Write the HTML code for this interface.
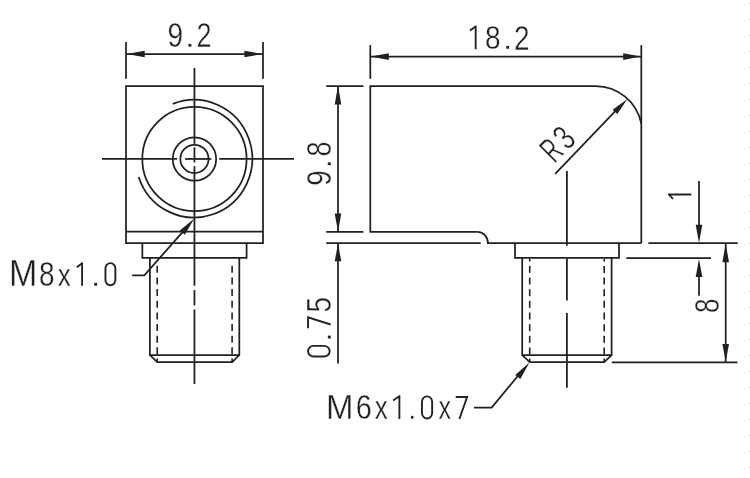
<!DOCTYPE html><html><head><meta charset="utf-8"><style>html,body{margin:0;padding:0;background:#fff;width:750px;height:478px;overflow:hidden}svg{display:block}text{font-family:"Liberation Sans",sans-serif;fill:#231f20}</style></head><body>
<svg width="750" height="478" viewBox="0 0 750 478">
<g stroke-linecap="butt" stroke-linejoin="miter">
<line x1="126" y1="42" x2="126" y2="78.8" stroke="#231f20" stroke-width="1.75"/>
<line x1="263" y1="42" x2="263" y2="78.8" stroke="#231f20" stroke-width="1.75"/>
<line x1="126" y1="54" x2="263" y2="54" stroke="#231f20" stroke-width="1.75"/>
<path d="M126.6 54L144.7 50.7L144.7 57.3Z" fill="#231f20"/>
<path d="M262.4 54L244.4 57.3L244.4 50.7Z" fill="#231f20"/>
<path d="M126 86H263V243H126Z" stroke="#231f20" stroke-width="1.75" fill="none"/>
<line x1="126" y1="231.7" x2="263" y2="231.7" stroke="#231f20" stroke-width="1.75"/>
<path d="M142.35 243V257.85H246.6V243" stroke="#231f20" stroke-width="1.75" fill="none"/>
<path d="M149.9 257.85V355H239.3V257.85" stroke="#231f20" stroke-width="1.75" fill="none"/>
<path d="M149.9 355L157.2 362.2H232.2L239.3 355" stroke="#231f20" stroke-width="1.75" fill="none"/>
<circle cx="194.45" cy="158.95" r="52.15" stroke="#231f20" stroke-width="1.75" fill="none"/>
<circle cx="194.45" cy="158.95" r="21.7" stroke="#231f20" stroke-width="1.75" fill="none"/>
<circle cx="194.45" cy="158.95" r="14.1" stroke="#231f20" stroke-width="1.75" fill="none"/>
<path d="M172.8 103.9A58.2 58.85 0 1 1 138.7 176.9" stroke="#231f20" stroke-width="1.75" fill="none"/>
<line x1="102" y1="158.95" x2="177.1" y2="158.95" stroke="#231f20" stroke-width="1.8"/>
<line x1="185.2" y1="158.95" x2="211.3" y2="158.95" stroke="#231f20" stroke-width="1.8"/>
<line x1="219.2" y1="158.95" x2="294" y2="158.95" stroke="#231f20" stroke-width="1.8"/>
<line x1="194.45" y1="67.9" x2="194.45" y2="143.9" stroke="#231f20" stroke-width="1.8"/>
<line x1="194.45" y1="147.3" x2="194.45" y2="162.4" stroke="#231f20" stroke-width="1.8"/>
<line x1="194.45" y1="166.2" x2="194.45" y2="285.7" stroke="#231f20" stroke-width="1.8"/>
<line x1="194.45" y1="290.1" x2="194.45" y2="305.4" stroke="#231f20" stroke-width="1.8"/>
<line x1="194.45" y1="309.5" x2="194.45" y2="384" stroke="#231f20" stroke-width="1.8"/>
<line x1="157.2" y1="265.8" x2="157.2" y2="272.8" stroke="#231f20" stroke-width="1.6"/>
<line x1="157.2" y1="277.45" x2="157.2" y2="284.45" stroke="#231f20" stroke-width="1.6"/>
<line x1="157.2" y1="289.1" x2="157.2" y2="296.1" stroke="#231f20" stroke-width="1.6"/>
<line x1="157.2" y1="300.75" x2="157.2" y2="307.75" stroke="#231f20" stroke-width="1.6"/>
<line x1="157.2" y1="312.4" x2="157.2" y2="319.4" stroke="#231f20" stroke-width="1.6"/>
<line x1="157.2" y1="324.05" x2="157.2" y2="331.05" stroke="#231f20" stroke-width="1.6"/>
<line x1="157.2" y1="335.7" x2="157.2" y2="342.7" stroke="#231f20" stroke-width="1.6"/>
<line x1="157.2" y1="347.35" x2="157.2" y2="354.35" stroke="#231f20" stroke-width="1.6"/>
<line x1="232.1" y1="265.8" x2="232.1" y2="272.8" stroke="#231f20" stroke-width="1.6"/>
<line x1="232.1" y1="277.45" x2="232.1" y2="284.45" stroke="#231f20" stroke-width="1.6"/>
<line x1="232.1" y1="289.1" x2="232.1" y2="296.1" stroke="#231f20" stroke-width="1.6"/>
<line x1="232.1" y1="300.75" x2="232.1" y2="307.75" stroke="#231f20" stroke-width="1.6"/>
<line x1="232.1" y1="312.4" x2="232.1" y2="319.4" stroke="#231f20" stroke-width="1.6"/>
<line x1="232.1" y1="324.05" x2="232.1" y2="331.05" stroke="#231f20" stroke-width="1.6"/>
<line x1="232.1" y1="335.7" x2="232.1" y2="342.7" stroke="#231f20" stroke-width="1.6"/>
<line x1="232.1" y1="347.35" x2="232.1" y2="354.35" stroke="#231f20" stroke-width="1.6"/>
<line x1="157.2" y1="358.6" x2="157.2" y2="362.2" stroke="#231f20" stroke-width="1.6"/>
<line x1="232.1" y1="358.6" x2="232.1" y2="362.2" stroke="#231f20" stroke-width="1.6"/>
<path d="M132.2 275.3H144.3L185 229.4" stroke="#231f20" stroke-width="1.75" fill="none"/>
<path d="M194.3 218.6L184.81 234.75L179.79 230.45Z" fill="#231f20"/>
<line x1="370.3" y1="45.1" x2="370.3" y2="78.8" stroke="#231f20" stroke-width="1.75"/>
<line x1="641.3" y1="45.1" x2="641.3" y2="243.1" stroke="#231f20" stroke-width="1.75"/>
<line x1="370.2" y1="56.6" x2="641.3" y2="56.6" stroke="#231f20" stroke-width="1.75"/>
<path d="M370.6 56.6L388.8 53.3L388.8 59.9Z" fill="#231f20"/>
<path d="M640.9 56.6L623.2 59.9L623.2 53.3Z" fill="#231f20"/>
<path d="M477.6 231.8H370.3V86H595.4A46.9 46.9 0 0 1 641.3 123.6" stroke="#231f20" stroke-width="1.75" fill="none"/>
<path d="M477.6 231.8A10.3 11.3 0 0 1 487.9 243.1H641.3" stroke="#231f20" stroke-width="1.75" fill="none"/>
<path d="M515 243.1V257.9H619V243.1" stroke="#231f20" stroke-width="1.75" fill="none"/>
<path d="M522.2 257.9V355.1H611.6V257.9" stroke="#231f20" stroke-width="1.75" fill="none"/>
<path d="M522.2 355.1L529.8 362.2H604.2L611.6 355.1" stroke="#231f20" stroke-width="1.75" fill="none"/>
<line x1="529.7" y1="265.9" x2="529.7" y2="272.9" stroke="#231f20" stroke-width="1.6"/>
<line x1="529.7" y1="277.55" x2="529.7" y2="284.55" stroke="#231f20" stroke-width="1.6"/>
<line x1="529.7" y1="289.2" x2="529.7" y2="296.2" stroke="#231f20" stroke-width="1.6"/>
<line x1="529.7" y1="300.85" x2="529.7" y2="307.85" stroke="#231f20" stroke-width="1.6"/>
<line x1="529.7" y1="312.5" x2="529.7" y2="319.5" stroke="#231f20" stroke-width="1.6"/>
<line x1="529.7" y1="324.15" x2="529.7" y2="331.15" stroke="#231f20" stroke-width="1.6"/>
<line x1="529.7" y1="335.8" x2="529.7" y2="342.8" stroke="#231f20" stroke-width="1.6"/>
<line x1="529.7" y1="347.45" x2="529.7" y2="354.45" stroke="#231f20" stroke-width="1.6"/>
<line x1="604.2" y1="265.9" x2="604.2" y2="272.9" stroke="#231f20" stroke-width="1.6"/>
<line x1="604.2" y1="277.55" x2="604.2" y2="284.55" stroke="#231f20" stroke-width="1.6"/>
<line x1="604.2" y1="289.2" x2="604.2" y2="296.2" stroke="#231f20" stroke-width="1.6"/>
<line x1="604.2" y1="300.85" x2="604.2" y2="307.85" stroke="#231f20" stroke-width="1.6"/>
<line x1="604.2" y1="312.5" x2="604.2" y2="319.5" stroke="#231f20" stroke-width="1.6"/>
<line x1="604.2" y1="324.15" x2="604.2" y2="331.15" stroke="#231f20" stroke-width="1.6"/>
<line x1="604.2" y1="335.8" x2="604.2" y2="342.8" stroke="#231f20" stroke-width="1.6"/>
<line x1="604.2" y1="347.45" x2="604.2" y2="354.45" stroke="#231f20" stroke-width="1.6"/>
<line x1="529.7" y1="259" x2="529.7" y2="261.5" stroke="#231f20" stroke-width="1.6"/>
<line x1="604.2" y1="259" x2="604.2" y2="261.5" stroke="#231f20" stroke-width="1.6"/>
<line x1="529.7" y1="358.6" x2="529.7" y2="362.2" stroke="#231f20" stroke-width="1.6"/>
<line x1="604.2" y1="358.6" x2="604.2" y2="362.2" stroke="#231f20" stroke-width="1.6"/>
<line x1="566.9" y1="171" x2="566.9" y2="245.7" stroke="#231f20" stroke-width="1.8"/>
<line x1="566.9" y1="258.5" x2="566.9" y2="300.6" stroke="#231f20" stroke-width="1.8"/>
<line x1="566.9" y1="312.9" x2="566.9" y2="387.7" stroke="#231f20" stroke-width="1.8"/>
<line x1="555.2" y1="173.8" x2="616" y2="110.3" stroke="#231f20" stroke-width="1.75"/>
<path d="M627.4 98.9L617.32 114.11L612.68 109.69Z" fill="#231f20"/>
<line x1="326.2" y1="86" x2="363.5" y2="86" stroke="#231f20" stroke-width="1.75"/>
<line x1="326.2" y1="231.8" x2="363.4" y2="231.8" stroke="#231f20" stroke-width="1.75"/>
<line x1="326.2" y1="243.05" x2="480.7" y2="243.05" stroke="#231f20" stroke-width="1.75"/>
<line x1="338" y1="85.9" x2="338" y2="231.8" stroke="#231f20" stroke-width="1.75"/>
<path d="M338 86.1L341.3 104.6L334.7 104.6Z" fill="#231f20"/>
<path d="M338 231.6L334.7 213.4L341.3 213.4Z" fill="#231f20"/>
<line x1="338" y1="243.2" x2="338" y2="363.6" stroke="#231f20" stroke-width="1.75"/>
<path d="M338 243.4L341.3 261.2L334.7 261.2Z" fill="#231f20"/>
<path d="M474 407.6H491.7L522 371" stroke="#231f20" stroke-width="1.75" fill="none"/>
<path d="M529.4 362.4L520.38 379.05L515.22 374.95Z" fill="#231f20"/>
<line x1="648.4" y1="243.2" x2="737.7" y2="243.2" stroke="#231f20" stroke-width="1.75"/>
<line x1="626.3" y1="258.2" x2="711" y2="258.2" stroke="#231f20" stroke-width="1.75"/>
<line x1="611.8" y1="362.3" x2="737.5" y2="362.3" stroke="#231f20" stroke-width="1.75"/>
<line x1="699" y1="181" x2="699" y2="230" stroke="#231f20" stroke-width="1.75"/>
<path d="M699 242.9L695.7 224.8L702.3 224.8Z" fill="#231f20"/>
<line x1="699" y1="270" x2="699" y2="295.7" stroke="#231f20" stroke-width="1.75"/>
<path d="M699 259L702.3 277L695.7 277Z" fill="#231f20"/>
<line x1="725.7" y1="243.2" x2="725.7" y2="362.3" stroke="#231f20" stroke-width="1.75"/>
<path d="M725.7 243.6L729 262.2L722.4 262.2Z" fill="#231f20"/>
<path d="M725.7 362L722.4 344L729 344Z" fill="#231f20"/>
</g>
<g opacity="0.99">
<text transform="matrix(0.28 0 -0 0.35 167.6 46.56)" font-size="100.0" stroke="#fff" stroke-width="0.3" vector-effect="non-scaling-stroke">9</text>
<text transform="matrix(0.35 0 -0 0.3 184.99 46.65)" font-size="100.0" stroke="#fff" stroke-width="0.3" vector-effect="non-scaling-stroke">.</text>
<text transform="matrix(0.27 0 -0 0.35 196.53 46.6)" font-size="100.0" stroke="#fff" stroke-width="0.3" vector-effect="non-scaling-stroke">2</text>
<path d="M475.68 25.8L475.68 49.2M476.3 26L470 30.6" stroke="#231f20" stroke-width="1.85" fill="none"/>
<text transform="matrix(0.28 0 -0 0.34 484.9 49.36)" font-size="100.0" stroke="#fff" stroke-width="0.3" vector-effect="non-scaling-stroke">8</text>
<text transform="matrix(0.33 0 -0 0.29 502.98 49.25)" font-size="100.0" stroke="#fff" stroke-width="0.3" vector-effect="non-scaling-stroke">.</text>
<text transform="matrix(0.28 0 -0 0.35 513.91 49.5)" font-size="100.0" stroke="#fff" stroke-width="0.3" vector-effect="non-scaling-stroke">2</text>
<text transform="matrix(0.34 0 -0 0.36 9 286.2)" font-size="100.0" stroke="#fff" stroke-width="0.3" vector-effect="non-scaling-stroke">M</text>
<text transform="matrix(0.28 0 -0 0.36 39.09 286.35)" font-size="100.0" stroke="#fff" stroke-width="0.3" vector-effect="non-scaling-stroke">8</text>
<text transform="matrix(0.26 0 -0 0.32 57.71 286.2)" font-size="100.0" stroke="#fff" stroke-width="0.3" vector-effect="non-scaling-stroke">x</text>
<path d="M82.08 262.5L82.08 285.7M82.7 262.7L76.9 267.3" stroke="#231f20" stroke-width="1.85" fill="none"/>
<text transform="matrix(0.33 0 -0 0.29 90.98 286.25)" font-size="100.0" stroke="#fff" stroke-width="0.3" vector-effect="non-scaling-stroke">.</text>
<rect transform="matrix(1 0 -0 1 0 0)" x="105.45" y="263.15" width="9.9" height="22.1" rx="4.95" ry="5.2" stroke="#231f20" stroke-width="1.9" fill="none"/>
<text transform="matrix(0.33 0 -0 0.35 326.05 419.3)" font-size="100.0" stroke="#fff" stroke-width="0.3" vector-effect="non-scaling-stroke">M</text>
<text transform="matrix(0.29 0 -0 0.35 355.83 419.36)" font-size="100.0" stroke="#fff" stroke-width="0.3" vector-effect="non-scaling-stroke">6</text>
<text transform="matrix(0.26 0 -0 0.33 374.71 419.3)" font-size="100.0" stroke="#fff" stroke-width="0.3" vector-effect="non-scaling-stroke">x</text>
<path d="M399.38 395.6L399.38 419M400 395.8L393.1 400.4" stroke="#231f20" stroke-width="1.85" fill="none"/>
<text transform="matrix(0.29 0 -0 0.3 408.26 419.05)" font-size="100.0" stroke="#fff" stroke-width="0.3" vector-effect="non-scaling-stroke">.</text>
<rect transform="matrix(1 0 -0 1 0 0)" x="421.95" y="396.35" width="10.2" height="22.1" rx="5.1" ry="5.36" stroke="#231f20" stroke-width="1.9" fill="none"/>
<text transform="matrix(0.25 0 -0 0.33 438.52 419.3)" font-size="100.0" stroke="#fff" stroke-width="0.3" vector-effect="non-scaling-stroke">x</text>
<path d="M455.7 396.95L467.1 396.95L459.4 419" stroke="#231f20" stroke-width="1.9" fill="none" stroke-linejoin="miter"/>
<text transform="matrix(0 -0.28 0.35 0 331.26 185.71)" font-size="100.0" stroke="#fff" stroke-width="0.3" vector-effect="non-scaling-stroke">9</text>
<text transform="matrix(0 -0.33 0.31 0 331.35 168.22)" font-size="100.0" stroke="#fff" stroke-width="0.3" vector-effect="non-scaling-stroke">.</text>
<text transform="matrix(0 -0.27 0.35 0 331.26 156.48)" font-size="100.0" stroke="#fff" stroke-width="0.3" vector-effect="non-scaling-stroke">8</text>
<rect transform="matrix(0 -1 1 0 0 0)" x="-356.55" y="308.05" width="10.7" height="21.6" rx="5.35" ry="5.62" stroke="#231f20" stroke-width="1.9" fill="none"/>
<text transform="matrix(0 -0.34 0.29 0 330.65 341.72)" font-size="100.0" stroke="#fff" stroke-width="0.3" vector-effect="non-scaling-stroke">.</text>
<path d="M308.05 328.2L308.05 317.3L330.6 324.5" stroke="#231f20" stroke-width="1.9" fill="none" stroke-linejoin="miter"/>
<text transform="matrix(0 -0.28 0.35 0 330.56 312.61)" font-size="100.0" stroke="#fff" stroke-width="0.3" vector-effect="non-scaling-stroke">5</text>
<path d="M668.2 194.53L691.4 194.53M668.4 193.9L673 199" stroke="#231f20" stroke-width="1.85" fill="none"/>
<text transform="matrix(0 -0.26 0.35 0 718.65 313.04)" font-size="100.0" stroke="#fff" stroke-width="0.3" vector-effect="non-scaling-stroke">8</text>
<text transform="matrix(0.15 -0.15 0.25 0.25 554.39 164.04)" font-size="100.0" stroke="#fff" stroke-width="0.3" vector-effect="non-scaling-stroke">R</text>
<text transform="matrix(0.18 -0.18 0.25 0.25 567.4 151.1)" font-size="100.0" stroke="#fff" stroke-width="0.3" vector-effect="non-scaling-stroke">3</text>
</g>
<rect x="749" y="2.9" width="1" height="1.2" fill="#9fe8d0"/>
<rect x="749" y="18.9" width="1" height="1.2" fill="#9fe8d0"/>
<rect x="749" y="34.9" width="1" height="1.2" fill="#9fe8d0"/>
<rect x="749" y="50.9" width="1" height="1.2" fill="#9fe8d0"/>
<rect x="749" y="66.9" width="1" height="1.2" fill="#9fe8d0"/>
<rect x="749" y="82.9" width="1" height="1.2" fill="#9fe8d0"/>
<rect x="749" y="98.9" width="1" height="1.2" fill="#9fe8d0"/>
<rect x="749" y="114.9" width="1" height="1.2" fill="#9fe8d0"/>
<rect x="749" y="130.9" width="1" height="1.2" fill="#9fe8d0"/>
<rect x="749" y="146.9" width="1" height="1.2" fill="#9fe8d0"/>
<rect x="749" y="162.9" width="1" height="1.2" fill="#9fe8d0"/>
<rect x="749" y="178.9" width="1" height="1.2" fill="#9fe8d0"/>
<rect x="749" y="194.9" width="1" height="1.2" fill="#9fe8d0"/>
<rect x="749" y="210.9" width="1" height="1.2" fill="#9fe8d0"/>
<rect x="749" y="226.9" width="1" height="1.2" fill="#9fe8d0"/>
<rect x="749" y="242.9" width="1" height="1.2" fill="#9fe8d0"/>
<rect x="749" y="258.9" width="1" height="1.2" fill="#9fe8d0"/>
<rect x="749" y="274.9" width="1" height="1.2" fill="#9fe8d0"/>
<rect x="749" y="290.9" width="1" height="1.2" fill="#9fe8d0"/>
<rect x="749" y="306.9" width="1" height="1.2" fill="#9fe8d0"/>
<rect x="749" y="322.9" width="1" height="1.2" fill="#9fe8d0"/>
<rect x="749" y="338.9" width="1" height="1.2" fill="#9fe8d0"/>
<rect x="749" y="354.9" width="1" height="1.2" fill="#9fe8d0"/>
<rect x="749" y="370.9" width="1" height="1.2" fill="#9fe8d0"/>
<rect x="749" y="386.9" width="1" height="1.2" fill="#9fe8d0"/>
<rect x="749" y="402.9" width="1" height="1.2" fill="#9fe8d0"/>
<rect x="749" y="418.9" width="1" height="1.2" fill="#9fe8d0"/>
<rect x="749" y="434.9" width="1" height="1.2" fill="#9fe8d0"/>
<rect x="749" y="450.9" width="1" height="1.2" fill="#9fe8d0"/>
<rect x="749" y="466.9" width="1" height="1.2" fill="#9fe8d0"/>
</svg></body></html>
